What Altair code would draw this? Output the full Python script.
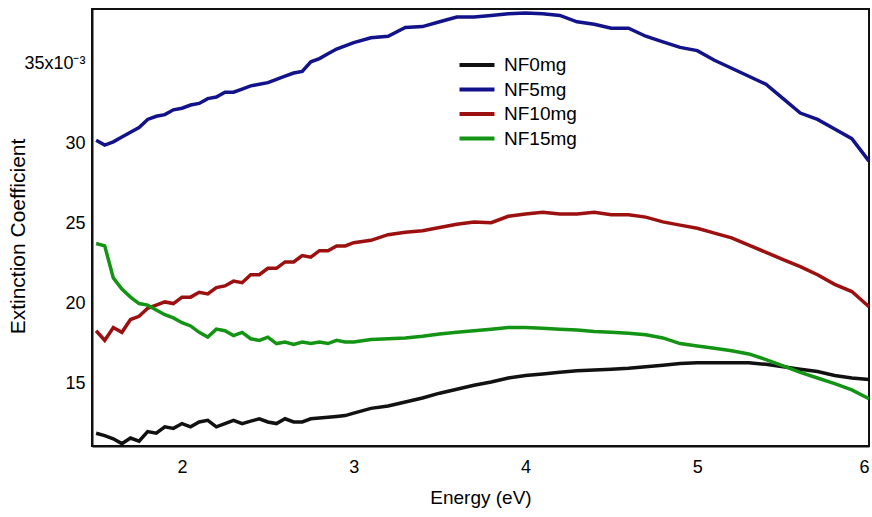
import altair as alt
import pandas as pd

energy = [1.50, 1.55, 1.60, 1.65, 1.70, 1.75, 1.80, 1.85, 1.90, 1.95, 2.00, 2.05, 2.10, 2.15, 2.20,
          2.25, 2.30, 2.35, 2.40, 2.45, 2.50, 2.55, 2.60, 2.65, 2.70, 2.75, 2.80, 2.85, 2.90, 2.95,
          3.00, 3.1, 3.2, 3.3, 3.4, 3.5, 3.6, 3.7, 3.8, 3.9, 4.0, 4.1, 4.2, 4.3, 4.4, 4.5, 4.6, 4.7,
          4.8, 4.9, 5.0, 5.1, 5.2, 5.3, 5.4, 5.5, 5.6, 5.7, 5.8, 5.9, 6.0]

nf0 = [11.9, 11.75, 11.55, 11.25, 11.6, 11.4, 12.0, 11.9, 12.3, 12.2, 12.5, 12.3, 12.6, 12.7, 12.3,
       12.5, 12.7, 12.5, 12.65, 12.8, 12.6, 12.5, 12.8, 12.6, 12.6, 12.8, 12.85, 12.9, 12.95, 13.0,
       13.15, 13.45, 13.6, 13.85, 14.1, 14.4, 14.65, 14.9, 15.1, 15.35, 15.5, 15.6, 15.7, 15.8, 15.85,
       15.9, 15.95, 16.05, 16.15, 16.25, 16.3, 16.3, 16.3, 16.3, 16.2, 16.05, 15.9, 15.75, 15.5,
       15.35, 15.25]

nf5 = [30.2, 29.9, 30.1, 30.4, 30.7, 31.0, 31.5, 31.7, 31.8, 32.1, 32.2, 32.4, 32.5, 32.8, 32.9,
       33.2, 33.2, 33.4, 33.6, 33.7, 33.8, 34.0, 34.2, 34.4, 34.5, 35.1, 35.3, 35.6, 35.9, 36.1,
       36.3, 36.6, 36.7, 37.25, 37.3, 37.6, 37.9, 37.9, 38.0, 38.1, 38.15, 38.1, 38.0, 37.6, 37.45,
       37.2, 37.2, 36.7, 36.35, 36.0, 35.8, 35.2, 34.7, 34.2, 33.7, 32.8, 31.9, 31.5, 30.9, 30.3,
       28.9]

nf10 = [18.3, 17.7, 18.5, 18.2, 19.0, 19.2, 19.7, 19.9, 20.1, 20.0, 20.4, 20.4, 20.7, 20.6, 21.0,
        21.1, 21.4, 21.3, 21.8, 21.8, 22.2, 22.2, 22.6, 22.6, 23.0, 22.9, 23.3, 23.3, 23.6, 23.6,
        23.8, 23.95, 24.3, 24.45, 24.55, 24.75, 24.95, 25.1, 25.05, 25.45, 25.6, 25.7, 25.6, 25.6,
        25.7, 25.55, 25.55, 25.4, 25.1, 24.9, 24.7, 24.4, 24.1, 23.65, 23.2, 22.75, 22.3, 21.8,
        21.2, 20.75, 19.8]

nf15 = [23.75, 23.6, 21.6, 20.9, 20.4, 20.0, 19.9, 19.6, 19.3, 19.1, 18.8, 18.6, 18.2, 17.9, 18.4,
        18.3, 18.0, 18.2, 17.8, 17.7, 17.9, 17.5, 17.6, 17.45, 17.6, 17.5, 17.6, 17.5, 17.7, 17.6,
        17.6, 17.75, 17.8, 17.85, 17.95, 18.1, 18.2, 18.3, 18.4, 18.5, 18.5, 18.45, 18.4, 18.35,
        18.25, 18.2, 18.15, 18.05, 17.85, 17.5, 17.35, 17.2, 17.05, 16.85, 16.5, 16.1, 15.7, 15.35,
        15.0, 14.6, 14.05]

series_names = ["NF0mg", "NF5mg", "NF10mg", "NF15mg"]
series_colors = ["#111111", "#12128a", "#9c1010", "#149414"]
y_ticks = [15, 20, 25, 30, 35]
x_ticks = [2, 3, 4, 5, 6]

rows = []
for name, vals in zip(series_names, [nf0, nf5, nf10, nf15]):
    for e, v in zip(energy, vals):
        rows.append({"Energy": e, "k": v, "Sample": name})
df = pd.DataFrame(rows)

FONT = "Liberation Sans"

chart = alt.Chart(df).mark_line(strokeWidth=3.5).encode(
    x=alt.X("Energy:Q",
            scale=alt.Scale(domain=[1.476, 6.0], nice=False, zero=False),
            axis=alt.Axis(values=x_ticks, title="Energy (eV)", grid=False, ticks=False, tickSize=0,
                          domain=True, domainColor="#111", domainWidth=2,
                          labelPadding=12, labelFontSize=18, labelFont=FONT,
                          labelColor="#000", titleFont=FONT, titleFontSize=19,
                          titleFontWeight="normal", titleColor="#000", titlePadding=12)),
    y=alt.Y("k:Q",
            scale=alt.Scale(domain=[11.1, 38.4], nice=False, zero=False),
            axis=alt.Axis(values=y_ticks, title="Extinction Coefficient", grid=False, ticks=False,
                          tickSize=0, domain=True, domainColor="#111", domainWidth=2,
                          labelPadding=7, labelFontSize=18,
                          labelFont=FONT, labelColor="#000",
                          labelExpr="datum.value == 35 ? '35x10⁻³' : datum.label",
                          titleFont=FONT, titleFontSize=21, titleFontWeight="normal",
                          titleColor="#000", titleX=-74, titleY=227, titleAngle=270,
                          titleBaseline="middle", titleAlign="center")),
    color=alt.Color("Sample:N",
                    scale=alt.Scale(domain=series_names, range=series_colors),
                    legend=alt.Legend(title=None, orient="none", legendX=374, legendY=45,
                                      symbolType="M-2,0L2,0", symbolSize=306,
                                      symbolStrokeWidth=4, labelFont=FONT, labelFontSize=19,
                                      labelColor="#000", labelOffset=16, rowPadding=3.5,
                                      padding=0)),
    detail="Sample:N",
).properties(
    width=777, height=437,
    background="white",
    autosize=alt.AutoSizeParams(type="none"),
    padding={"left": 92, "top": 9, "right": 3, "bottom": 71},
).configure_view(
    stroke="#111", strokeWidth=2, strokeOpacity=1
)

chart.save("out.html", embed_options={"renderer": "svg", "actions": False})
